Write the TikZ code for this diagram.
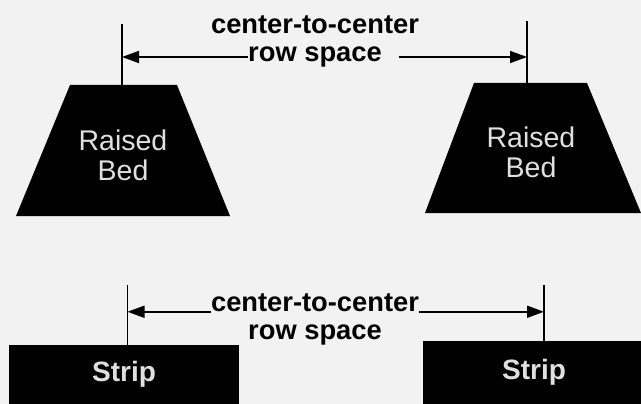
\documentclass[tikz,border=0pt]{standalone}
\usepackage{fontspec}
\setmainfont{Liberation Sans}
\usetikzlibrary{arrows.meta}
\begin{document}
\begin{tikzpicture}[x=1pt,y=-1pt]
\tikzset{
  every node/.style={inner sep=0pt},
  bedtext/.style={text=black!12,align=center,
    font=\fontsize{28.5}{30}\selectfont},
  strip/.style={rectangle,fill=black,text=black!12,
    font=\bfseries\fontsize{28}{31}\selectfont},
  lbl/.style={font=\bfseries\fontsize{27.3}{32}\selectfont},
  tick/.style={line width=1.3pt},
  dimarrow/.style={line width=1.8pt,-{Triangle[length=17pt,width=12pt]}}
}
\fill[black!5] (0,0) rectangle (641,404);
\useasboundingbox (0,0) rectangle (641,404);
% raised beds
\fill (16,216) -- (70,85) -- (177,85) -- (230,216) -- cycle;
\fill (425,213) -- (474,83) -- (587,83) -- (641,213) -- cycle;
\node[bedtext] (bedL) at (123,155) {Raised\\Bed};
\node[bedtext] (bedR) at (531,152) {Raised\\Bed};
\coordinate (bedLtop) at (122,85);
\coordinate (bedRtop) at (527,83);
\draw[tick] (bedLtop) -- ++(0,-61) coordinate (tickL);
\draw[tick] (bedRtop) -- ++(0,-62) coordinate (tickR);
\node[lbl] (ctcTop) at (315,25) {center-to-center};
\node[lbl] (rsTop) at (315,57) {row space};
\draw[dimarrow] (rsTop.west) -- (tickL |- rsTop.west);
\draw[dimarrow] ([xshift=17pt]rsTop.east) -- (tickR |- rsTop.east);
% strips
\node[strip,minimum width=230pt,minimum height=59pt] (stripL) at (124,374.5) {Strip};
\node[strip,minimum width=222pt,minimum height=63pt] (stripR) at (534,372.5) {Strip};
\draw[tick] (stripL.north -| 127.5,0) -- ++(0,-60) coordinate (tickLb);
\draw[tick] (stripR.north -| 544,0) -- ++(0,-56) coordinate (tickRb);
\node[lbl] (ctcBot) at (315,303) {center-to-center};
\node[lbl] (rsBot) at (315,335) {row space};
\draw[dimarrow] (ctcBot.base west) -- (tickLb |- ctcBot.base west);
\draw[dimarrow] (ctcBot.base east) -- (tickRb |- ctcBot.base east);
\end{tikzpicture}
\end{document}
